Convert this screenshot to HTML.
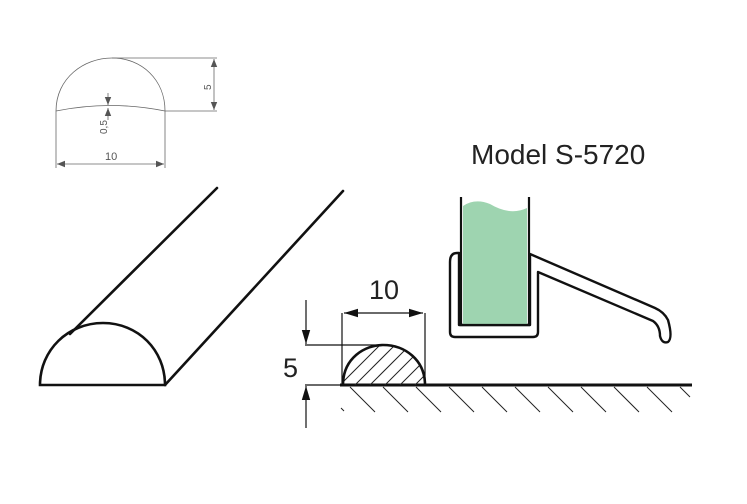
<!DOCTYPE html>
<html><head><meta charset="utf-8"><style>html,body{margin:0;padding:0;background:#fff}svg{display:block}</style></head>
<body>
<svg width="747" height="504" viewBox="0 0 747 504" xmlns="http://www.w3.org/2000/svg" font-family="Liberation Sans, sans-serif">
<defs>
<marker id="a" viewBox="0 0 10 10" refX="10" refY="5" markerWidth="8" markerHeight="8" orient="auto-start-reverse" markerUnits="userSpaceOnUse"><path d="M0,1 L10,5 L0,9z" fill="#555"/></marker>
<marker id="b" viewBox="0 0 10 10" refX="10" refY="5" markerWidth="14" markerHeight="14" orient="auto-start-reverse" markerUnits="userSpaceOnUse"><path d="M0,2 L10,5 L0,8z" fill="#111"/></marker>
<clipPath id="hc"><path d="M343,385 C343,358 365,345 383,345 C405,345 425,360 425,385 Z"/></clipPath>
</defs>
<!-- top small drawing -->
<g stroke="#666" stroke-width="0.8" fill="none">
<path d="M56,111 C56,78 84,58 112,58 C142,58 165,80 165,111"/>
<path d="M56,111 Q110,100 165,111"/>
<line x1="56" y1="111" x2="56" y2="168"/>
<line x1="165" y1="111" x2="165" y2="168"/>
<line x1="57" y1="164" x2="164" y2="164" marker-start="url(#a)" marker-end="url(#a)"/>
<line x1="112" y1="58" x2="217" y2="58"/>
<line x1="165" y1="111" x2="217" y2="111"/>
<line x1="214" y1="59" x2="214" y2="110" marker-start="url(#a)" marker-end="url(#a)"/>
<line x1="108" y1="93" x2="108" y2="105" marker-end="url(#a)"/>
<line x1="108" y1="120" x2="108" y2="108" marker-end="url(#a)"/>
</g>
<g fill="#555" font-size="10">
<text x="105" y="160" font-size="11">10</text>
<text transform="translate(211,90) rotate(-90)">5</text>
<text transform="translate(107,134) rotate(-90)">0,5</text>
</g>
<!-- 3D half-round -->
<g stroke="#111" stroke-width="2.6" fill="none" stroke-linecap="round">
<path d="M40,385 C40,350 68,323 103,323 C138,323 165,350 165,385 Z" fill="#fff"/>
<line x1="70" y1="334" x2="217" y2="188"/>
<line x1="165" y1="385" x2="343" y2="191"/>
</g>
<text x="471" y="164" font-size="28" fill="#222">Model S-5720</text>
<!-- floor -->
<line x1="340" y1="385" x2="692" y2="385" stroke="#111" stroke-width="3"/>
<g stroke="#222" stroke-width="1">
<line x1="341" y1="408" x2="344" y2="411"/>
<line x1="350" y1="387" x2="375" y2="412"/>
<line x1="383" y1="387" x2="408" y2="412"/>
<line x1="416" y1="387" x2="441" y2="412"/>
<line x1="449" y1="387" x2="474" y2="412"/>
<line x1="482" y1="387" x2="507" y2="412"/>
<line x1="515" y1="387" x2="540" y2="412"/>
<line x1="548" y1="387" x2="573" y2="412"/>
<line x1="581" y1="387" x2="606" y2="412"/>
<line x1="614" y1="387" x2="639" y2="412"/>
<line x1="647" y1="387" x2="672" y2="412"/>
<line x1="680" y1="387" x2="690" y2="397"/>
</g>
<!-- hatched half-round -->
<g clip-path="url(#hc)" stroke="#222" stroke-width="1">
<line x1="330" y1="395" x2="380" y2="345"/>
<line x1="345" y1="395" x2="395" y2="345"/>
<line x1="360" y1="395" x2="410" y2="345"/>
<line x1="375" y1="395" x2="425" y2="345"/>
<line x1="390" y1="395" x2="440" y2="345"/>
<line x1="405" y1="395" x2="455" y2="345"/>
<line x1="315" y1="395" x2="365" y2="345"/>
</g>
<path d="M343,385 C343,358 365,345 383,345 C405,345 425,360 425,385" stroke="#111" stroke-width="2.6" fill="none"/>
<!-- dims -->
<g stroke="#111" stroke-width="1.2" fill="none">
<line x1="342" y1="313" x2="342" y2="385"/>
<line x1="425" y1="313" x2="425" y2="385"/>
<line x1="344" y1="313" x2="423" y2="313" marker-start="url(#b)" marker-end="url(#b)"/>
<line x1="305" y1="345" x2="383" y2="345"/>
<line x1="305" y1="385" x2="342" y2="385"/>
<line x1="306" y1="300" x2="306" y2="344" marker-end="url(#b)"/>
<line x1="306" y1="428" x2="306" y2="386" marker-end="url(#b)"/>
</g>
<text x="369" y="299" font-size="27" fill="#222">10</text>
<text x="283" y="377" font-size="27" fill="#222">5</text>
<!-- profile -->
<path d="M457,253 Q450,253 450,262 L450,332 Q450,337 455,337 L533,337 Q538,337 538,332 L538,272 L653,321 Q660,326 660,336 Q662,344 668,342 Q673,338 668,320 Q664,312 655,308 L530,254 L530,325 L459,325 L459,253 Z" fill="#fff" stroke="#111" stroke-width="2.4" stroke-linejoin="round"/>
<path d="M463,325 L463,206 Q475,198 490,204 Q510,216 527,208 L527,325 Z" fill="#9ed4b0"/>
<line x1="461" y1="197" x2="461" y2="326" stroke="#111" stroke-width="2.2"/>
<line x1="529" y1="197" x2="529" y2="326" stroke="#111" stroke-width="2.2"/>
<line x1="460" y1="325" x2="530" y2="325" stroke="#111" stroke-width="2.2"/>
</svg>
</body></html>
